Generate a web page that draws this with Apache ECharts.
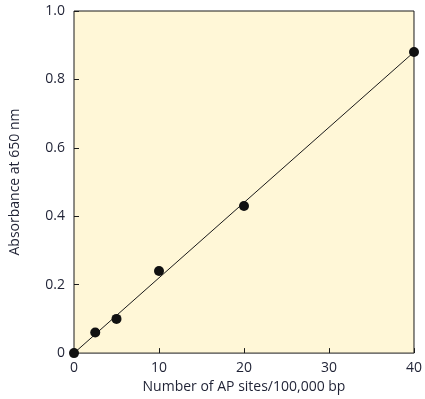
<!DOCTYPE html>
<html>
<head>
<meta charset="utf-8">
<script src="https://cdn.jsdelivr.net/npm/echarts@6/dist/echarts.min.js"></script>
<style>
  html, body { margin: 0; padding: 0; background: #fff; }
  #chart { width: 425px; height: 399px; }
</style>
</head>
<body>
<div id="chart"></div>
<script>
// data
const apSites = [0, 2.5, 5, 10, 20, 40];
const absorbance = [0, 0.06, 0.1, 0.24, 0.43, 0.88];
// fitted line end points
const fitX = [0, 40];
const fitY = [0, 0.88];

const textColor = '#1f2235';
const fontFamily = '"Open Sans", "Liberation Sans", sans-serif';

const chart = echarts.init(document.getElementById('chart'));

const option = {
  animation: false,
  grid: {
    left: 72,
    right: 10,
    top: 11,
    bottom: 45,
    show: true,
    backgroundColor: '#fff7d7',
    borderColor: '#1a1a1a',
    borderWidth: 1
  },
  xAxis: {
    type: 'value',
    min: 0,
    max: 40,
    interval: 10,
    name: 'Number of AP sites/100,000 bp',
    nameLocation: 'middle',
    nameGap: 23,
    nameTextStyle: { color: textColor, fontSize: 14, fontFamily: fontFamily },
    axisLine: { show: false },
    axisTick: { show: true, inside: true, length: 5, lineStyle: { color: '#1a1a1a' } },
    axisLabel: { color: textColor, fontSize: 14, fontFamily: fontFamily, margin: 8 },
    splitLine: { show: false }
  },
  yAxis: {
    type: 'value',
    min: 0,
    max: 1,
    interval: 0.2,
    name: 'Absorbance at 650 nm',
    nameLocation: 'middle',
    nameGap: 52,
    nameTextStyle: { color: textColor, fontSize: 14, fontFamily: fontFamily },
    axisLine: { show: false },
    axisTick: { show: true, inside: true, length: 5, lineStyle: { color: '#1a1a1a' } },
    axisLabel: {
      color: textColor, fontSize: 14, fontFamily: fontFamily, margin: 9,
      formatter: v => (v === 0 ? '0' : v.toFixed(1))
    },
    splitLine: { show: false }
  },
  series: [
    {
      type: 'line',
      data: fitX.map((x, i) => [x, fitY[i]]),
      symbol: 'none',
      lineStyle: { color: '#1a1a1a', width: 1 },
      z: 2
    },
    {
      type: 'scatter',
      data: apSites.map((x, i) => [x, absorbance[i]]),
      symbolSize: 10,
      itemStyle: { color: '#111', opacity: 1 },
      clip: false,
      z: 3
    }
  ]
};

chart.setOption(option);
</script>
</body>
</html>
